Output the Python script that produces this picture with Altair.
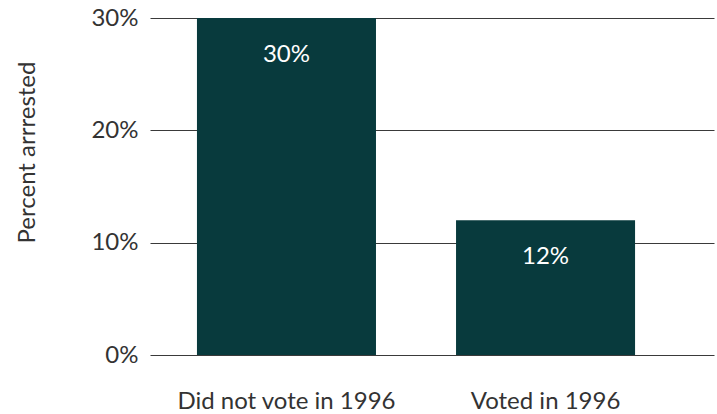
import altair as alt
import pandas as pd

categories = ["Did not vote in 1996", "Voted in 1996"]
values = [30, 12]
tick_values = [0, 10, 20, 30]

df = pd.DataFrame({"group": categories, "pct": values})
df["label"] = [f"{v}%" for v in values]

FONT = "Source Sans Pro, Lato, sans-serif"
FS = 24

x = alt.X(
    "group:N",
    sort=categories,
    scale=alt.Scale(paddingInner=0.309, paddingOuter=0.243, align=0.373),
    axis=alt.Axis(
        title=None, labelAngle=0, domain=False, ticks=False, grid=False,
        labelPadding=34, labelFontSize=FS, labelColor="#333333", labelFont=FONT,
        labelLimit=0,
    ),
)
y = alt.Y(
    "pct:Q",
    scale=alt.Scale(domain=[0, 30], nice=False),
    axis=alt.Axis(
        title="Percent arrrested", values=tick_values,
        labelExpr="datum.value + '%'", domain=False, ticks=False,
        grid=True, gridColor="#3a3a3a", gridWidth=1,
        labelPadding=12, labelFontSize=FS, labelColor="#333333", labelFont=FONT,
        titleFontSize=FS, titleFontWeight="normal", titleColor="#333333", titleFont=FONT,
        titleAngle=-90, titleAlign="center", titleBaseline="middle",
        titleX=-123, titleY=134,
    ),
)

bars = alt.Chart(df).mark_bar(color="#083A3D").encode(x=x, y=y)
text = alt.Chart(df).mark_text(
    color="white", fontSize=FS, font=FONT, baseline="middle", dy=37
).encode(x=alt.X("group:N", sort=categories), y="pct:Q", text="label:N")

chart = (
    alt.layer(bars, text)
    .properties(
        width=564, height=337,
        autosize=alt.AutoSizeParams(type="none"),
        padding={"left": 150, "top": 18, "right": 3, "bottom": 59},
    )
    .configure_view(stroke=None)
    .configure_axis(gridOpacity=1)
)

chart.save("out.html", embed_options={"renderer": "svg", "actions": False})
